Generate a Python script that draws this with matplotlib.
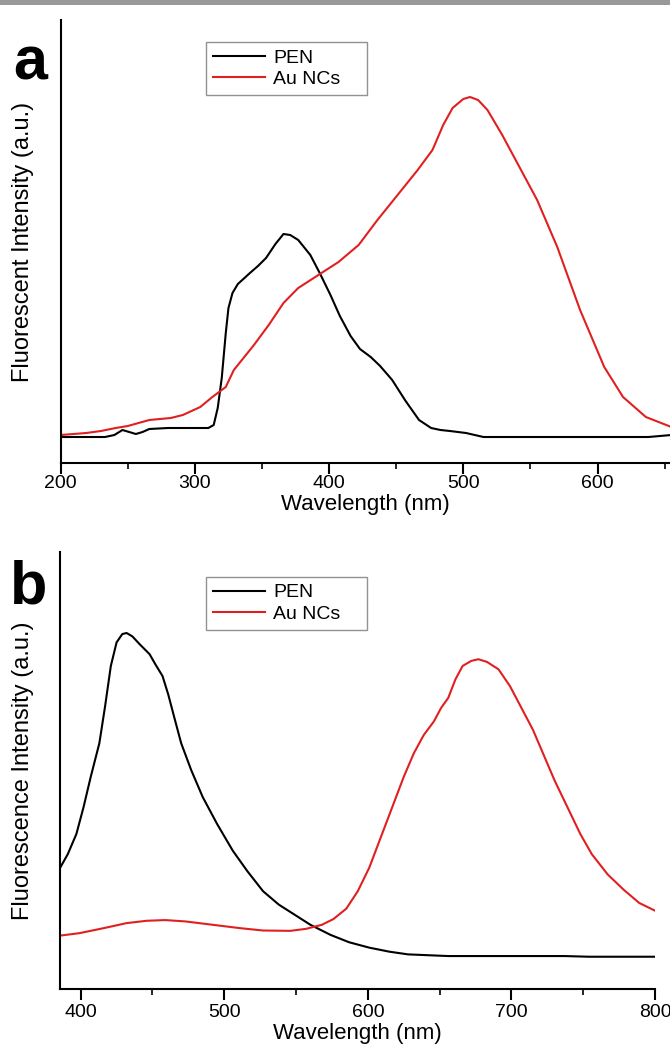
import numpy as np
import matplotlib.pyplot as plt
from matplotlib.patches import Rectangle
from matplotlib.ticker import MultipleLocator

plt.rcParams['font.family'] = ['Liberation Sans', 'DejaVu Sans']

# Painel a - excitação (intensidade em unidades arbitrárias)
wl_a_pen = [200, 220, 233, 240, 246, 251, 256, 261, 266, 280, 300, 310, 314, 317, 320,
            323, 325, 328, 332, 341, 347, 353, 360, 366, 371, 377, 386, 393, 401, 408,
            416, 423, 431, 438, 447, 457, 467, 476, 483, 490, 502, 515, 550, 600, 638,
            655]
int_a_pen = [26, 26, 26, 28, 33, 31, 29, 31, 34, 35, 35, 35, 38, 55, 85,
             130, 155, 170, 179, 190, 197, 205, 219, 229, 228, 223, 208, 190, 168, 147,
             127, 114, 106, 97, 83, 62, 43, 35, 33, 32, 30, 26, 26, 26, 26,
             28]

wl_a_au = [200, 219, 230, 241, 250, 266, 282, 291, 304, 313, 323, 329, 344, 355, 366,
           377, 392, 407, 422, 436, 451, 466, 477, 485, 492, 500, 505, 511, 518, 529,
           541, 555, 570, 587, 605, 619, 636, 655]
int_a_au = [28, 30, 32, 35, 37, 43, 45, 48, 56, 66, 76, 93, 118, 138, 160,
            175, 188, 201, 218, 243, 268, 293, 313, 338, 355, 364, 366, 363, 353, 328,
            298, 263, 216, 153, 96, 66, 46, 36]

# Painel b - emissão
wl_b_pen = [386, 391, 397, 402, 407, 413, 417, 421, 425, 429, 432, 436, 441, 448, 452,
            457, 461, 465, 470, 477, 485, 495, 506, 516, 527, 538, 549, 560, 574, 587,
            601, 615, 628, 656, 696, 737, 754, 800]
int_b_pen = [363, 401, 461, 541, 631, 731, 841, 961, 1031, 1056, 1059, 1049, 1026, 996, 966,
             931, 876, 811, 731, 651, 571, 491, 411, 351, 291, 251, 221, 191, 161, 139,
             123, 111, 103, 98, 98, 98, 96, 96]

wl_b_au = [386, 399, 416, 432, 446, 459, 473, 492, 511, 527, 546, 557, 568, 576, 585,
           593, 601, 609, 617, 625, 632, 639, 646, 651, 656, 661, 666, 672, 677, 683,
           691, 699, 707, 715, 722, 730, 739, 748, 756, 767, 778, 789, 800]
int_b_au = [159, 166, 181, 196, 203, 205, 201, 191, 181, 174, 173, 179, 191, 208, 239,
            291, 361, 451, 541, 631, 701, 756, 796, 836, 866, 921, 961, 976, 981, 973,
            951, 901, 836, 771, 701, 621, 541, 461, 401, 341, 296, 256, 233]

red = '#e02020'

fig = plt.figure(figsize=(6.7, 10.45), dpi=100)

# barra cinza no topo
fig.patches.append(Rectangle((0, 1 - 5 / 1045), 1, 5 / 1045, transform=fig.transFigure,
                             facecolor='#999999', edgecolor='none'))

ax_a = fig.add_axes([60.7 / 670, 1 - 463 / 1045, (670 - 60.7) / 670, 443 / 1045])
ax_b = fig.add_axes([60 / 670, 1 - 989 / 1045, 595 / 670, 437 / 1045])

ax_a.plot(wl_a_pen, int_a_pen, color='black', lw=1.5, label='PEN')
ax_a.plot(wl_a_au, int_a_au, color=red, lw=1.5, label='Au NCs')
ax_a.set_xlim(200, 654)
ax_a.set_ylim(0, 443)

ax_b.plot(wl_b_pen, int_b_pen, color='black', lw=1.5, label='PEN')
ax_b.plot(wl_b_au, int_b_au, color=red, lw=1.5, label='Au NCs')
ax_b.set_xlim(385.6, 800)
ax_b.set_ylim(0, 1300)

# caixa da legenda: (x0, topo, largura) em fração dos eixos
leg_box = {ax_a: (0.2386, 0.950, 0.2644), ax_b: (0.2454, 0.943, 0.2706)}

for ax, ylab in [(ax_a, 'Fluorescent Intensity (a.u.)'),
                 (ax_b, 'Fluorescence Intensity (a.u.)')]:
    for s in ['top', 'right']:
        ax.spines[s].set_visible(False)
    for s in ['left', 'bottom']:
        ax.spines[s].set_linewidth(1.5)
    ax.set_yticks([])
    ax.xaxis.set_major_locator(MultipleLocator(100))
    ax.xaxis.set_minor_locator(MultipleLocator(50))
    ax.tick_params(axis='x', which='major', direction='out', length=8, width=1.5,
                   labelsize=14, pad=3)
    ax.tick_params(axis='x', which='minor', direction='out', length=4, width=1.2)
    ax.set_xlabel('Wavelength (nm)', fontsize=16)
    ax.set_ylabel(ylab, fontsize=17)
    ax.yaxis.set_label_coords(-0.044, 0.5)
    x0, top, w = leg_box[ax]
    leg = ax.legend(loc='upper left', bbox_to_anchor=(x0, top - 0.2, w, 0.2),
                    mode='expand', fontsize=14, frameon=True, fancybox=False,
                    handlelength=2.7, handletextpad=0.4, borderpad=0.35,
                    labelspacing=0.2, borderaxespad=0)
    leg.get_frame().set_edgecolor('#777777')
    leg.get_frame().set_linewidth(1.0)

ax_a.tick_params(axis='x', which='major', pad=1)
ax_a.xaxis.set_label_coords(0.5, -0.07)
ax_b.xaxis.set_label_coords(0.5, -0.078)

fig.text(30 / 670, 1 - 80 / 1045, 'a', fontsize=44, fontweight='bold', ha='center',
         va='baseline')
fig.text(29 / 670, 1 - 604 / 1045, 'b', fontsize=44, fontweight='bold', ha='center',
         va='baseline')

fig.savefig('out.png', dpi=100)
